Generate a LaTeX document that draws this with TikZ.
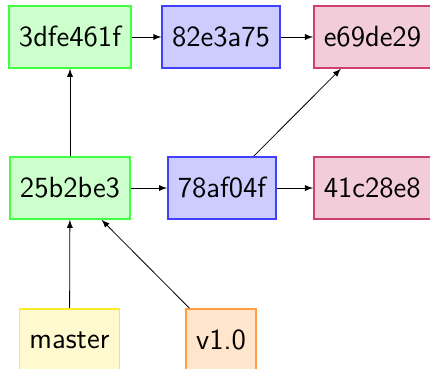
\documentclass[tikz,border=0pt]{standalone}
\usepackage{fontspec}
\usepackage{tikz}

\begin{document}
\begin{tikzpicture}[
		block/.style={draw,thick,minimum height=1.09cm,inner xsep=5pt,font=\sffamily\fontsize{14.6}{17}\selectfont},
		commit/.style={block,draw=green!75,fill=green!20!white},
		tree/.style={block,draw=blue!75,fill=blue!20!white},
		blob/.style={block,draw=purple!75,fill=purple!20!white,anchor=west},
		branch/.style={block,draw=yellow!90!orange!85!white,fill=yellow!85!orange!18!white},
		tag/.style={block,draw=orange!75,fill=orange!20!white}
		]
		\useasboundingbox (0,0) rectangle (7.556,-6.484);
		%Draw objects
		\path (1.23,-0.65) node[commit] (c1) {3dfe461f}
		+(2.654,0) node[tree] (t1) {82e3a75}
		+(4.27,0) node[blob] (b1) {e69de29}
		+(0,-2.654) node[commit] (c2) {25b2be3}
		+(2.671,-2.654) node[tree] (t2) {78af04f}
		+(4.27,-2.654) node[blob] (b2) {41c28e8};
		%Draw refs
		\path (1.221,-5.975) node[branch] (master) {master}
		+(2.663,0) node[tag] (v10) {v1.0};
		
		\draw[-latex] (c1) -- (t1);
		\draw[-latex] (t1) -- (b1);
		\draw[-latex] (c2) -- (c1);
		\draw[-latex] (c2) -- (t2);
		\draw[-latex] (t2) -- (b1);
		\draw[-latex] (t2) -- (b2);
		\draw[-latex] (master) -- (c2);
		\draw[-latex] (v10) -- (c2);
	\end{tikzpicture}
\end{document}
